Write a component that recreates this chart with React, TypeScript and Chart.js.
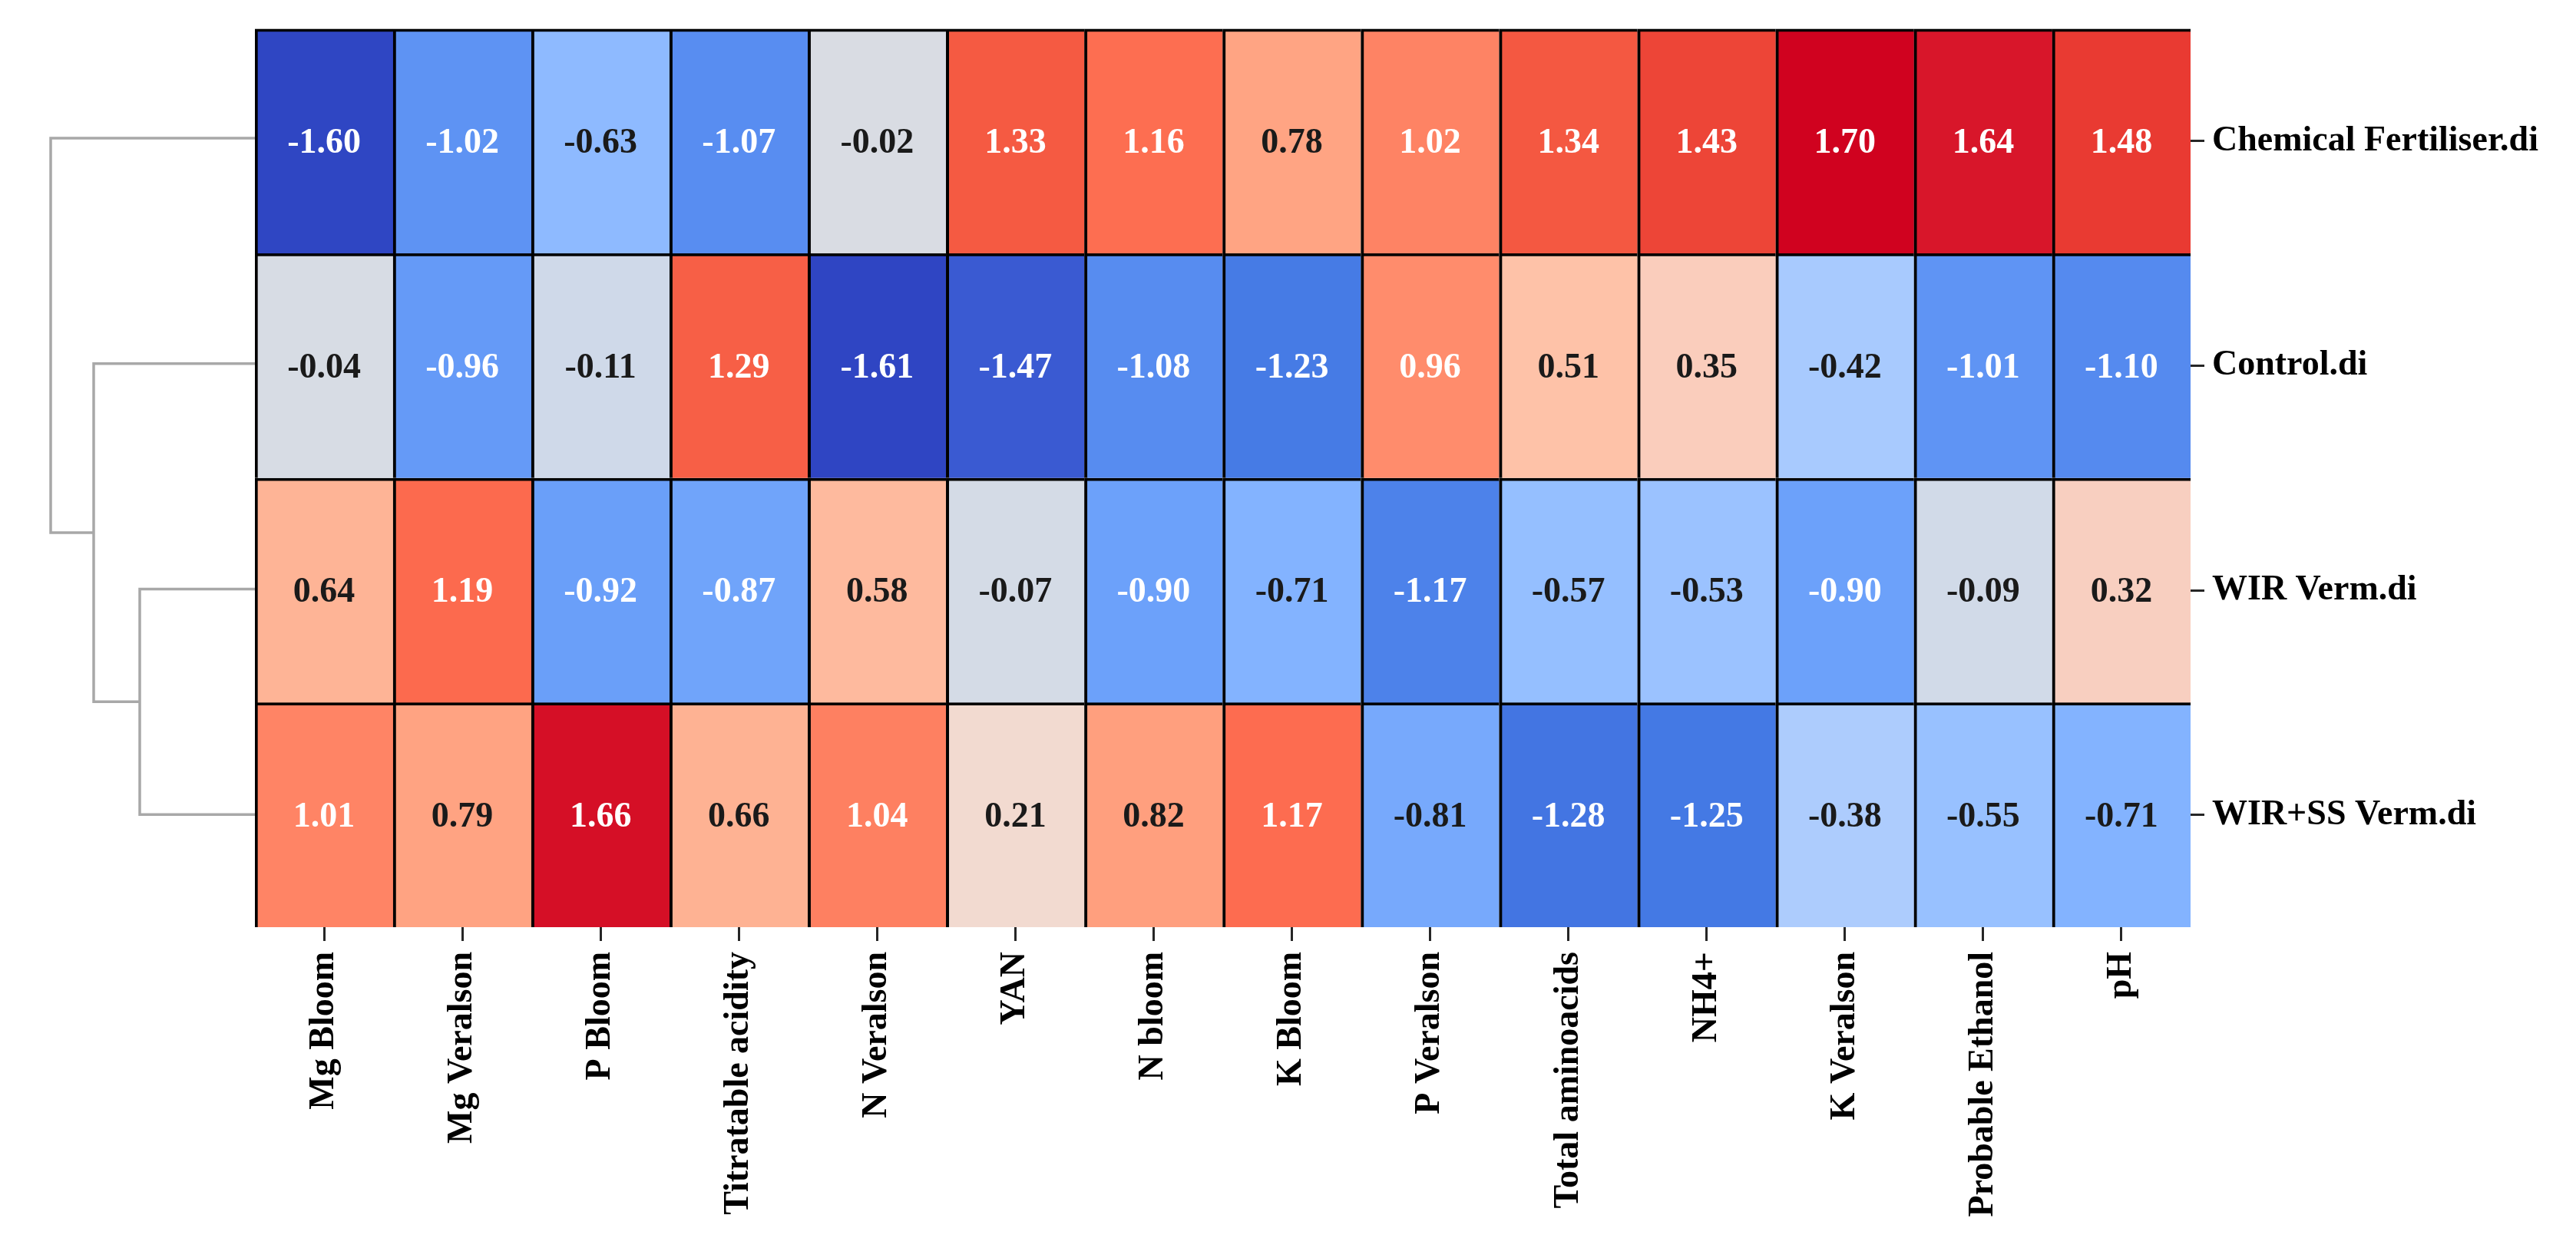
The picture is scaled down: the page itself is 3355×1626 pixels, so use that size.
import React, { useEffect, useRef } from 'react';
import { Chart, registerables } from 'chart.js';

Chart.register(...registerables);

// ---------------- data ----------------
const rowLabels = ['Chemical Fertiliser.di', 'Control.di', 'WIR Verm.di', 'WIR+SS Verm.di'];
const colLabels = [
  'Mg Bloom', 'Mg Veralson', 'P Bloom', 'Titratable acidity', 'N Veralson', 'YAN', 'N bloom',
  'K Bloom', 'P Veralson', 'Total aminoacids', 'NH4+', 'K Veralson', 'Probable Ethanol', 'pH',
];
const chemicalFertiliser = [-1.60, -1.02, -0.63, -1.07, -0.02, 1.33, 1.16, 0.78, 1.02, 1.34, 1.43, 1.70, 1.64, 1.48];
const control = [-0.04, -0.96, -0.11, 1.29, -1.61, -1.47, -1.08, -1.23, 0.96, 0.51, 0.35, -0.42, -1.01, -1.10];
const wirVerm = [0.64, 1.19, -0.92, -0.87, 0.58, -0.07, -0.90, -0.71, -1.17, -0.57, -0.53, -0.90, -0.09, 0.32];
const wirSsVerm = [1.01, 0.79, 1.66, 0.66, 1.04, 0.21, 0.82, 1.17, -0.81, -1.28, -1.25, -0.38, -0.55, -0.71];
const heatRows = [chemicalFertiliser, control, wirVerm, wirSsVerm];
// dendrogram merge distances: (WIR, WIR+SS), (Control, {WIR,WIR+SS}), (Chemical, rest)
const dendroHeights = [1.50, 2.10, 2.66];

// ---------------- styles ----------------
const W = 3355;
const H = 1626;
const FONT = '"Liberation Serif", "Times New Roman", serif';
const cmapStops: [number, string][] = [
  [-1.70, '#2b3fbf'], [-1.60, '#2f46c3'], [-1.47, '#3a5ad2'], [-1.25, '#4479e4'],
  [-1.08, '#578cf0'], [-0.92, '#6a9ff9'], [-0.71, '#83b3ff'], [-0.55, '#98c1ff'],
  [-0.40, '#abcbfe'], [-0.05, '#d6dce5'], [0.21, '#f2dad0'], [0.33, '#f9cebe'],
  [0.51, '#fec2a8'], [0.64, '#feb496'], [0.79, '#ffa382'], [0.96, '#ff8c6c'],
  [1.17, '#fd6c50'], [1.33, '#f55a42'], [1.48, '#e93a32'], [1.64, '#d8162a'], [1.70, '#d0021f'],
];

function hexToRgb(h: string): number[] {
  return [parseInt(h.slice(1, 3), 16), parseInt(h.slice(3, 5), 16), parseInt(h.slice(5, 7), 16)];
}

function cmap(v: number): string {
  if (v <= cmapStops[0][0]) return cmapStops[0][1];
  for (let i = 1; i < cmapStops.length; i++) {
    const [v1, c1] = cmapStops[i];
    if (v <= v1) {
      const [v0, c0] = cmapStops[i - 1];
      const t = (v - v0) / (v1 - v0);
      const a = hexToRgb(c0);
      const b = hexToRgb(c1);
      const m = a.map((x, k) => Math.round(x + (b[k] - x) * t));
      return `rgb(${m[0]},${m[1]},${m[2]})`;
    }
  }
  return cmapStops[cmapStops.length - 1][1];
}

const valueLabels = {
  id: 'valueLabels',
  afterDatasetsDraw(chart: any) {
    const ctx = chart.ctx;
    ctx.save();
    ctx.font = `bold 46px ${FONT}`;
    ctx.textAlign = 'center';
    ctx.textBaseline = 'alphabetic';
    chart.data.datasets.forEach((_ds: any, di: number) => {
      const meta = chart.getDatasetMeta(di);
      meta.data.forEach((el: any, i: number) => {
        const v = heatRows[di][i];
        const p = el.getProps(['x', 'y', 'base'], true);
        const cy = (p.y + p.base) / 2;
        ctx.fillStyle = Math.abs(v) >= 0.85 ? '#ffffff' : '#1a1a1a';
        ctx.fillText(v.toFixed(2), p.x, cy + 15);
      });
    });
    ctx.restore();
  },
};

export default function App() {
  const heatRef = useRef<HTMLCanvasElement | null>(null);
  const dendroRef = useRef<HTMLCanvasElement | null>(null);

  useEffect(() => {
    const tickFont = { family: FONT, weight: 'bold' as const, size: 46 };

    const heat = new Chart(heatRef.current as HTMLCanvasElement, {
      type: 'bar',
      data: {
        labels: colLabels,
        datasets: heatRows.map((vals, r) => ({
          label: rowLabels[r],
          data: vals.map(() => 1),
          backgroundColor: (c: any) => cmap(vals[c.dataIndex]),
          borderColor: '#000000',
          borderWidth: { top: 4, left: 4, right: 0, bottom: 0 },
          borderSkipped: false,
          barPercentage: 1,
          categoryPercentage: 1,
          stack: 'heat',
          xAxisID: 'x',
          yAxisID: 'y',
        })),
      },
      options: {
        responsive: false,
        animation: false,
        devicePixelRatio: 1,
        layout: { padding: { left: 332, top: 33, right: 0, bottom: 0 } },
        plugins: { legend: { display: false }, tooltip: { enabled: false } },
        scales: {
          x: {
            type: 'category',
            position: 'bottom',
            stacked: true,
            offset: true,
            grid: { offset: false, drawOnChartArea: false, drawTicks: true, tickLength: 18, color: '#262626', lineWidth: 3 },
            border: { display: false },
            ticks: { autoSkip: false, maxRotation: 90, minRotation: 90, padding: 14, color: '#000000', font: tickFont },
            afterFit: (s: any) => { s.height = H - 1208; },
          },
          y: { type: 'linear', stacked: true, min: 0, max: 4, reverse: true, display: false },
          yr: {
            type: 'category',
            labels: rowLabels,
            position: 'right',
            offset: true,
            grid: { offset: false, drawOnChartArea: false, drawTicks: true, tickLength: 18, color: '#262626', lineWidth: 3 },
            border: { display: false },
            ticks: { padding: 10, color: '#000000', font: tickFont },
            afterFit: (s: any) => { s.width = W - 2853; },
          },
        },
      } as any,
      plugins: [valueLabels],
    });

    // dendrogram links built from the tree structure
    const leafY = rowLabels.map((_, i) => i + 0.5);
    const [h1, h2, h3] = dendroHeights;
    const c1 = (leafY[2] + leafY[3]) / 2;
    const c2 = (leafY[1] + c1) / 2;
    const links = [
      [{ x: 0, y: leafY[2] }, { x: h1, y: leafY[2] }, { x: h1, y: leafY[3] }, { x: 0, y: leafY[3] }],
      [{ x: 0, y: leafY[1] }, { x: h2, y: leafY[1] }, { x: h2, y: c1 }, { x: h1, y: c1 }],
      [{ x: 0, y: leafY[0] }, { x: h3, y: leafY[0] }, { x: h3, y: c2 }, { x: h2, y: c2 }],
    ];

    const dendro = new Chart(dendroRef.current as HTMLCanvasElement, {
      type: 'scatter',
      data: {
        datasets: links.map((pts) => ({
          data: pts,
          showLine: true,
          borderColor: '#a8a8a8',
          borderWidth: 3.5,
          pointRadius: 0,
          tension: 0,
          fill: false,
          clip: false,
        })),
      },
      options: {
        responsive: false,
        animation: false,
        devicePixelRatio: 1,
        layout: { padding: { left: 66, top: 33, right: 0, bottom: H - 1208 } },
        plugins: { legend: { display: false }, tooltip: { enabled: false } },
        scales: {
          x: { type: 'linear', min: 0, max: dendroHeights[2], reverse: true, display: false },
          y: { type: 'linear', min: 0, max: 4, reverse: true, display: false },
        },
      } as any,
    });

    return () => {
      heat.destroy();
      dendro.destroy();
    };
  }, []);

  return (
    <div style={{ position: 'absolute', left: 0, top: 0, width: W, height: H, background: '#ffffff' }}>
      <canvas
        ref={dendroRef}
        width={332}
        height={H}
        style={{ position: 'absolute', left: 0, top: 0, width: 332, height: H, display: 'block' }}
      />
      <canvas
        ref={heatRef}
        width={W}
        height={H}
        style={{ position: 'absolute', left: 0, top: 0, width: W, height: H, display: 'block' }}
      />
    </div>
  );
}
